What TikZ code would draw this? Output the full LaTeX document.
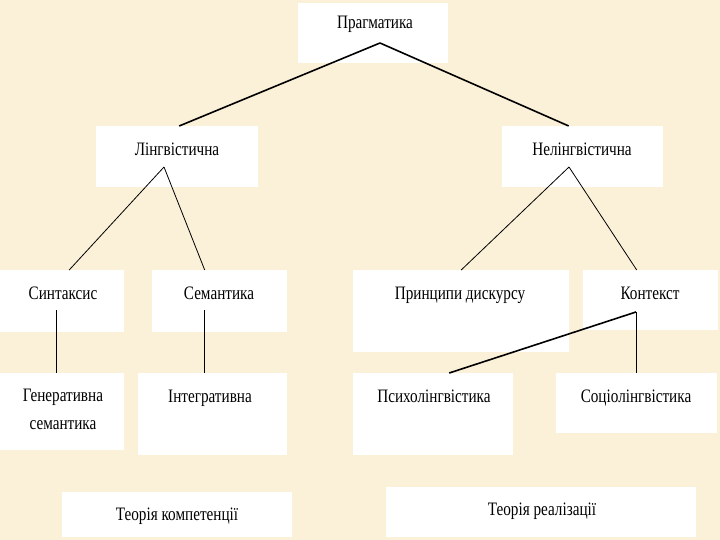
\documentclass[tikz,border=0pt]{standalone}
\usepackage{fontspec}
\setmainfont{Liberation Serif}[FakeStretch=0.8]
\definecolor{parchment}{RGB}{251,240,216}
\tikzset{
    box/.style={fill=white, inner sep=0, anchor=north west},
    lbl/.style={inner sep=0, align=center, text height=13pt, text depth=4pt,
        font=\fontsize{19}{28}\selectfont},
    thinline/.style={line width=0.8pt},
    thickline/.style={line width=1.6pt}
}
\begin{document}
\begin{tikzpicture}[x=1pt, y=-1pt]
        \fill[parchment] (0,0) rectangle (720,540);
        \useasboundingbox (0,0) rectangle (720,540);

        % top level
        \node[box, minimum width=150, minimum height=60] (prag) at (298,3) {};
        \node[lbl] (pragt) at (375,24) {Прагматика};

        \node[box, minimum width=162, minimum height=61] (ling) at (96,126) {};
        \node[lbl] (lingt) at (177,151) {Лінгвістична};

        \node[box, minimum width=161, minimum height=61] (nonling) at (502,126) {};
        \node[lbl] (nonlingt) at (582,151) {Нелінгвістична};

        % second level
        \node[box, minimum width=124, minimum height=62] (syn) at (0,270) {};
        \node[lbl] (synt) at (63,295) {Синтаксис};

        \node[box, minimum width=135, minimum height=62] (sem) at (152,270) {};
        \node[lbl] (semt) at (219,295) {Семантика};

        \node[box, minimum width=216, minimum height=82] (disc) at (353,270) {};
        \node[lbl] (disct) at (460,295) {Принципи дискурсу};

        \node[box, minimum width=135, minimum height=60] (ctx) at (583,270) {};
        \node[lbl] (ctxt) at (650,295) {Контекст};

        % third level
        \node[box, minimum width=124, minimum height=77] (gen) at (0,373) {};
        \node[lbl, text height=, text depth=] (gent) at (63,409) {Генеративна\\семантика};

        \node[box, minimum width=149, minimum height=82] (integ) at (138,373) {};
        \node[lbl] (integt) at (210,398) {Інтегративна};

        \node[box, minimum width=160, minimum height=82] (psy) at (353,373) {};
        \node[lbl] (psyt) at (434,398) {Психолінгвістика};

        \node[box, minimum width=161, minimum height=60] (soc) at (556,373) {};
        \node[lbl] (soct) at (636,398) {Соціолінгвістика};

        % theories
        \node[box, minimum width=230, minimum height=45] (comp) at (62,492) {};
        \node[lbl] (compt) at (177,516) {Теорія компетенції};

        \node[box, minimum width=310, minimum height=50] (real) at (386,487) {};
        \node[lbl] (realt) at (542,511) {Теорія реалізації};

        % connectors
        \coordinate (pragtip) at (380,43);
        \coordinate (lingtip) at (164,167);
        \coordinate (nonlingtip) at (569,167);
        \coordinate (syntip) at (56,310);
        \coordinate (semtip) at (204,310);
        \coordinate (ctxtip) at (636,312);

        \draw[thickline] (pragtip) -- ([xshift=2pt]ling.north);
        \draw[thickline] (pragtip) -- ([xshift=-14pt]nonling.north);

        \draw[thinline] (lingtip) -- ([xshift=7pt]syn.north);
        \draw[thinline] (lingtip) -- ([xshift=-15pt]sem.north);
        \draw[thinline] (nonlingtip) -- (disc.north);
        \draw[thinline] (nonlingtip) -- ([xshift=-14pt]ctx.north);

        \draw[thinline] (syntip) -- (syntip |- gen.north);
        \draw[thinline] (semtip) -- (semtip |- integ.north);
        \draw[thickline] (ctxtip) -- ([xshift=16pt]psy.north);
        \draw[thinline] (ctxtip) -- (ctxtip |- soc.north);

    \end{tikzpicture}
\end{document}
